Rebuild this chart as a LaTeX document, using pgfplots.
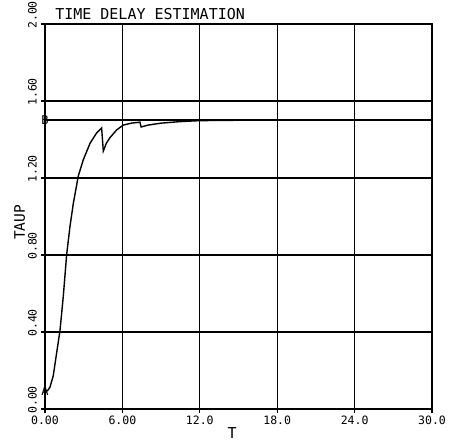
\documentclass[border=0pt]{standalone}
\usepackage{fontspec}
\setmainfont{DejaVu Sans Mono}
\usepackage{pgfplots}
\pgfplotsset{compat=1.18}
\begin{document}
\begin{tikzpicture}
\path[use as bounding box] (-45bp,-32bp) rectangle (408bp,409bp);
\begin{axis}[at={(0,0)}, anchor=south west, scale only axis,
  width=387bp, height=385bp,
  xmin=0, xmax=30, ymin=0, ymax=2,
  clip=false,
  xtick pos=bottom, ytick pos=left,
  xtick={0,6,12,18,24,30}, xticklabels={0.00,6.00,12.0,18.0,24.0,30.0},
  ytick={0,0.4,0.8,1.2,1.6,2.0}, yticklabels={0.00,0.40,0.80,1.20,1.60,2.00},
  grid=major, major grid style={black, line width=1.3bp},
  axis line style={black, line width=1.4bp},
  tick style={black, line width=1.1bp}, major tick length=4bp, tick align=outside,
  xticklabel style={font=\fontsize{11.5bp}{12bp}\selectfont, inner sep=0pt, anchor=north, yshift=-3bp},
  yticklabel style={font=\fontsize{11.5bp}{12bp}\selectfont, inner sep=0pt, rotate=90, anchor=south west, xshift=-5bp, yshift=4bp},
]
\addplot[black, line width=1.7bp] coordinates {(0,1.5) (30,1.5)};
\addplot[black, line width=1.4bp] coordinates {
(0,0.093) (0.2,0.095) (0.39,0.114) (0.64,0.173) (0.91,0.295) (1.16,0.406)
(1.42,0.587) (1.68,0.803) (1.94,0.95) (2.2,1.07) (2.58,1.21) (2.97,1.295)
(3.49,1.38) (4.0,1.434) (4.39,1.46) (4.52,1.34) (4.75,1.38) (5.04,1.41)
(5.56,1.45) (6.07,1.475) (6.7,1.485) (7.36,1.49) (7.45,1.465) (8.0,1.475)
(9,1.485) (10.5,1.493) (12,1.498) (15,1.5) (30,1.5)};
\addplot[only marks, mark=text, text mark={A}, text mark as node=true, text mark style={font=\fontsize{12bp}{12bp}\selectfont, inner sep=0pt}] coordinates {(0,0.093)};
\addplot[only marks, mark=text, text mark={B}, text mark as node=true, text mark style={font=\fontsize{12bp}{12bp}\selectfont, inner sep=0pt}] coordinates {(0,1.5)};
\node[anchor=base west, font=\fontsize{15bp}{16bp}\selectfont, inner sep=0pt] at (axis cs:0.78,2) [yshift=4bp] {TIME DELAY ESTIMATION};
\node[anchor=base, font=\fontsize{15bp}{16bp}\selectfont, inner sep=0pt] at (axis cs:14.5,0) [yshift=-29bp] {T};
\node[xshift=-20bp, anchor=base, rotate=90, font=\fontsize{14.5bp}{15bp}\selectfont, inner sep=0pt] at (axis cs:0,0.97) {TAUP};
\end{axis}
\end{tikzpicture}
\end{document}
